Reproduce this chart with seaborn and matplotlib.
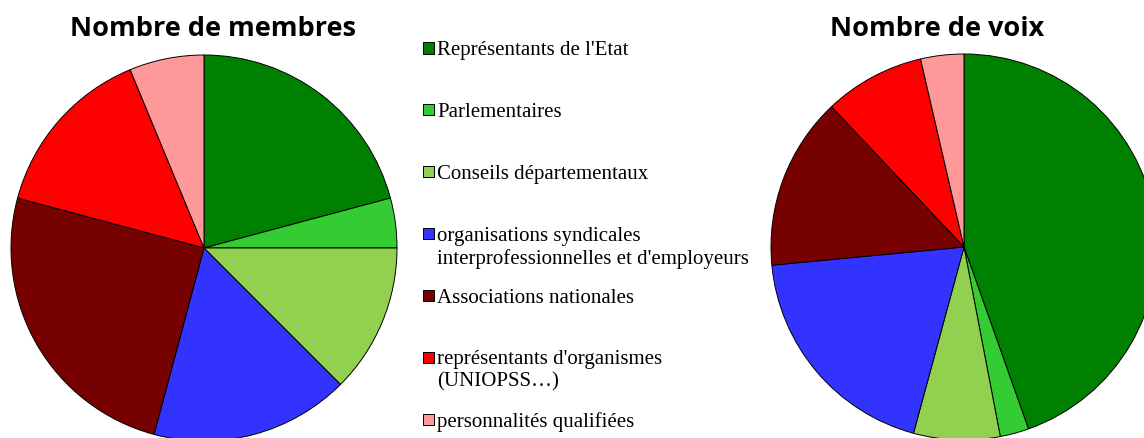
import matplotlib
matplotlib.use("Agg")
import matplotlib.pyplot as plt
import numpy as np
import seaborn as sns

"""
Composition : nombre de membres et nombre de voix par collège
"""

categories = [
    "Représentants de l'Etat",
    "Parlementaires",
    "Conseils départementaux",
    "organisations syndicales\ninterprofessionnelles et d'employeurs",
    "Associations nationales",
    "représentants d'organismes\n(UNIOPSS…)",
    "personnalités qualifiées",
]
membres = [10, 2, 6, 8, 12, 7, 3]
voix = [37, 2, 6, 16, 12, 7, 3]
titles = ["Nombre de membres", "Nombre de voix"]

COLORS = ["#008000", "#33CC33", "#92D050", "#3333FF", "#770000", "#FF0000", "#FF9999"]

W, H, DPI = 1144, 439, 100
R = 193  # pie radius in pixels


def pie_axes(fig, x0, x1, cx, cy):
    # axes spanning pixels [x0, x1] x full height, data unit = pie radius
    ax = fig.add_axes([x0 / W, 0, (x1 - x0) / W, 1])
    return ax, ((x0 - cx) / R, (x1 - cx) / R), ((cy - H) / R, cy / R)


def draw_pie(ax, values, xlim, ylim, palette):
    ax.pie(values, colors=palette, startangle=90, counterclock=False, radius=1,
           wedgeprops=dict(edgecolor="black", linewidth=0.7))
    ax.set_aspect("auto")
    ax.set_xlim(*xlim)
    ax.set_ylim(*ylim)
    ax.axis("off")


sns.set_theme(style="white")
palette = sns.color_palette(COLORS)
plt.rcParams["font.family"] = ["Liberation Serif", "DejaVu Serif"]

fig = plt.figure(figsize=(W / DPI, H / DPI), dpi=DPI)

ax1, xl, yl = pie_axes(fig, 0, 410, 204, 249)
draw_pie(ax1, membres, xl, yl, palette)

ax2, xl, yl = pie_axes(fig, 770, W, 964, 248)
draw_pie(ax2, voix, xl, yl, palette)

for xc, t in zip([213, 937], titles):
    fig.text(xc / W, 1 - 36 / H, t, ha="center", va="baseline", color="black",
             fontsize=19.5, fontweight="bold", family=["Open Sans", "DejaVu Sans"])

# legend drawn in its own axes, pixel units
axl = fig.add_axes([415 / W, 0, (770 - 415) / W, 1])
axl.set_xlim(415, 770)
axl.set_ylim(H, 0)
axl.axis("off")
ypos = 49 + 61.9 * np.arange(len(categories))
axl.scatter(np.full(len(categories), 428.5), ypos, marker="s", s=64,
            c=palette, edgecolors="black", linewidths=0.7)
for y, lab in zip(ypos, categories):
    axl.text(437, y - 8, lab, ha="left", va="top", fontsize=15,
             linespacing=1.22, color="black")

fig.savefig("out.png", dpi=DPI)
